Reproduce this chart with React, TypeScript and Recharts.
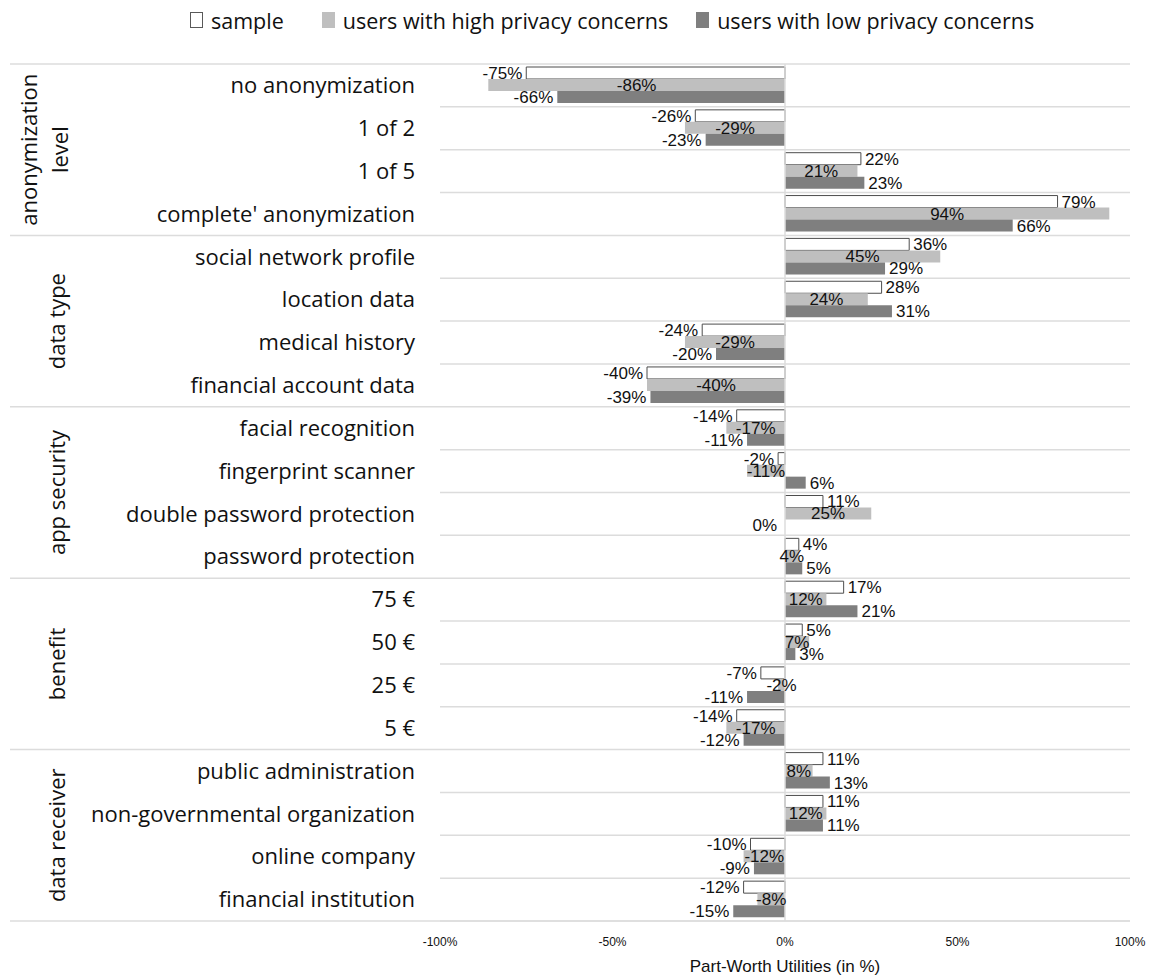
import React from 'react';
import {
  BarChart,
  Bar,
  XAxis,
  YAxis,
  CartesianGrid,
  Legend,
  LabelList,
  ReferenceLine,
} from 'recharts';

// Attribute levels, top to bottom
const levels = [
  'no anonymization',
  '1 of 2',
  '1 of 5',
  "complete' anonymization",
  'social network profile',
  'location data',
  'medical history',
  'financial account data',
  'facial recognition',
  'fingerprint scanner',
  'double password protection',
  'password protection',
  '75 €',
  '50 €',
  '25 €',
  '5 €',
  'public administration',
  'non-governmental organization',
  'online company',
  'financial institution',
];

// Attribute groups and how many levels each one spans
const groupNames = [['anonymization', 'level'], ['data type'], ['app security'], ['benefit'], ['data receiver']];
const groupSizes = [4, 4, 4, 4, 4];

// Part-worth utilities in %
const sample = [-75, -26, 22, 79, 36, 28, -24, -40, -14, -2, 11, 4, 17, 5, -7, -14, 11, 11, -10, -12];
const highConcern = [-86, -29, 21, 94, 45, 24, -29, -40, -17, -11, 25, 4, 12, 7, -2, -17, 8, 12, -12, -8];
const lowConcern = [-66, -23, 23, 66, 29, 31, -20, -39, -11, 6, 0, 5, 21, 3, -11, -12, 13, 11, -9, -15];

const xTicks = [-100, -50, 0, 50, 100];

const data = levels.map((name, i) => ({
  name,
  sample: sample[i],
  high: highConcern[i],
  low: lowConcern[i],
}));

const W = 1149;
const H = 977;
const MARGIN = { top: 24, right: 19, bottom: 0, left: 10 };
const PLOT_TOP = 64;
const PLOT_BOTTOM = 921;
const ROW_H = (PLOT_BOTTOM - PLOT_TOP) / levels.length;

const GRID = '#dcdcdc';
const TEXT = '#111';
const LABEL_FONT = '"Liberation Sans", Arial, sans-serif';
const CAT_FONT = '"Open Sans", "DejaVu Sans", sans-serif';

// index of the first level in each group
const groupStarts: number[] = [];
groupSizes.reduce((acc, n) => {
  groupStarts.push(acc);
  return acc + n;
}, 0);

function CategoryTick(props: any) {
  const { x, y, payload, index } = props;
  const gi = groupStarts.indexOf(index);
  const isLast = index === levels.length - 1;
  const gIdxOfMid = groupStarts.findIndex((s, k) => index === s + Math.floor(groupSizes[k] / 2) - 1);
  return (
    <g>
      <text
        x={x - 25}
        y={y}
        dy="0.35em"
        textAnchor="end"
        fontSize={22}
        fontFamily={CAT_FONT}
        fill={TEXT}
      >
        {payload.value}
      </text>
      {gi >= 0 && (
        <line x1={10} x2={x} y1={y - ROW_H / 2} y2={y - ROW_H / 2} stroke={GRID} strokeWidth={1.5} />
      )}
      {isLast && (
        <line x1={10} x2={x} y1={y + ROW_H / 2} y2={y + ROW_H / 2} stroke={GRID} strokeWidth={1.5} />
      )}
      {gIdxOfMid >= 0 && (
        <GroupTitle lines={groupNames[gIdxOfMid]} cy={y + ROW_H / 2} />
      )}
    </g>
  );
}

function GroupTitle({ lines, cy }: { lines: string[]; cy: number }) {
  const cx = lines.length > 1 ? 45 : 57;
  const lh = 31;
  const shift = -((lines.length - 1) * lh) / 2;
  return (
    <text
      transform={`rotate(-90 ${cx} ${cy})`}
      x={cx}
      y={cy}
      textAnchor="middle"
      fontSize={22}
      fontFamily={CAT_FONT}
      fill={TEXT}
    >
      {lines.map((t, i) => (
        <tspan key={t} x={cx} y={cy + shift + i * lh} dy="0.35em">
          {t}
        </tspan>
      ))}
    </text>
  );
}

// Label placed just past the end of the bar; zero values go on the left of the axis
function makeOutsideLabel(values: number[]) {
  return function OutsideLabel(props: any) {
    const { x, y, width, height, index } = props;
    const value = values[index];
    const left = Math.min(x, x + width);
    const right = Math.max(x, x + width);
    const neg = value <= 0;
    return (
      <text
        x={neg ? left - (value === 0 ? 8 : 4) : right + 4}
        y={y + height / 2}
        dy="0.35em"
        textAnchor={neg ? 'end' : 'start'}
        fontSize={17}
        fontFamily={LABEL_FONT}
        fill={TEXT}
      >
        {`${value}%`}
      </text>
    );
  };
}

function CenterLabel(props: any) {
  const { x, y, width, height, index } = props;
  return (
    <text
      x={x + width / 2}
      y={y + height / 2}
      dy="0.35em"
      textAnchor="middle"
      fontSize={17}
      fontFamily={LABEL_FONT}
      fill={TEXT}
    >
      {`${highConcern[index]}%`}
    </text>
  );
}

const SampleLabel = makeOutsideLabel(sample);
const LowLabel = makeOutsideLabel(lowConcern);

const legendItems = [
  { label: 'sample', fill: '#fff', stroke: '#595959', gap: 38 },
  { label: 'users with high privacy concerns', fill: '#bfbfbf', stroke: '#bfbfbf', gap: 28 },
  { label: 'users with low privacy concerns', fill: '#7f7f7f', stroke: '#7f7f7f', gap: 0 },
];

function TopLegend() {
  return (
    <div
      style={{
        display: 'flex',
        alignItems: 'center',
        height: 40,
        paddingLeft: 190,
        fontFamily: CAT_FONT,
        fontSize: 21.5,
        color: TEXT,
        whiteSpace: 'nowrap',
      }}
    >
      {legendItems.map((it) => (
        <div key={it.label} style={{ display: 'flex', alignItems: 'center', marginRight: it.gap }}>
          <span
            style={{
              display: 'inline-block',
              width: 11,
              height: 14,
              background: it.fill,
              border: `1px solid ${it.stroke}`,
              marginRight: 8,
            }}
          />
          {it.label}
        </div>
      ))}
    </div>
  );
}

export default function App() {
  return (
    <div style={{ position: 'absolute', left: 0, top: 0, background: '#fff' }}>
      <BarChart
        width={W}
        height={H}
        data={data}
        layout="vertical"
        margin={MARGIN}
        barCategoryGap={3}
        barGap={0}
      >
        <CartesianGrid
          vertical={false}
          stroke={GRID}
          strokeWidth={1.5}
          horizontalCoordinatesGenerator={({ offset }: any) =>
            levels.map((_, i) => offset.top + (offset.height * i) / levels.length).concat(offset.top + offset.height)
          }
        />
        <Legend
          verticalAlign="top"
          content={() => <TopLegend />}
          wrapperStyle={{ top: 0, left: 0, width: W, height: 40 }}
        />
        <XAxis
          type="number"
          domain={[-100, 100]}
          ticks={xTicks}
          tickFormatter={(v) => `${v}%`}
          axisLine={{ stroke: GRID, strokeWidth: 1.5 }}
          tickLine={false}
          tickMargin={10}
          height={56}
          tick={{ fontSize: 12, fontFamily: LABEL_FONT, fill: TEXT }}
          label={{
            value: 'Part-Worth Utilities (in %)',
            position: 'insideBottom',
            offset: 5,
            fontSize: 17,
            fontFamily: LABEL_FONT,
            fill: TEXT,
          }}
        />
        <YAxis
          type="category"
          dataKey="name"
          width={430}
          axisLine={false}
          tickLine={false}
          tickSize={0}
          tickMargin={0}
          interval={0}
          tick={<CategoryTick />}
        />
        <ReferenceLine x={0} stroke={GRID} strokeWidth={1.5} />
        <Bar dataKey="sample" fill="#ffffff" stroke="#4d4d4d" strokeWidth={1} isAnimationActive={false}>
          <LabelList dataKey="sample" content={<SampleLabel />} />
        </Bar>
        <Bar dataKey="high" fill="#bfbfbf" isAnimationActive={false}>
          <LabelList dataKey="high" content={<CenterLabel />} />
        </Bar>
        <Bar dataKey="low" fill="#7f7f7f" minPointSize={0.01} isAnimationActive={false}>
          <LabelList dataKey="low" content={<LowLabel />} />
        </Bar>
      </BarChart>
    </div>
  );
}
